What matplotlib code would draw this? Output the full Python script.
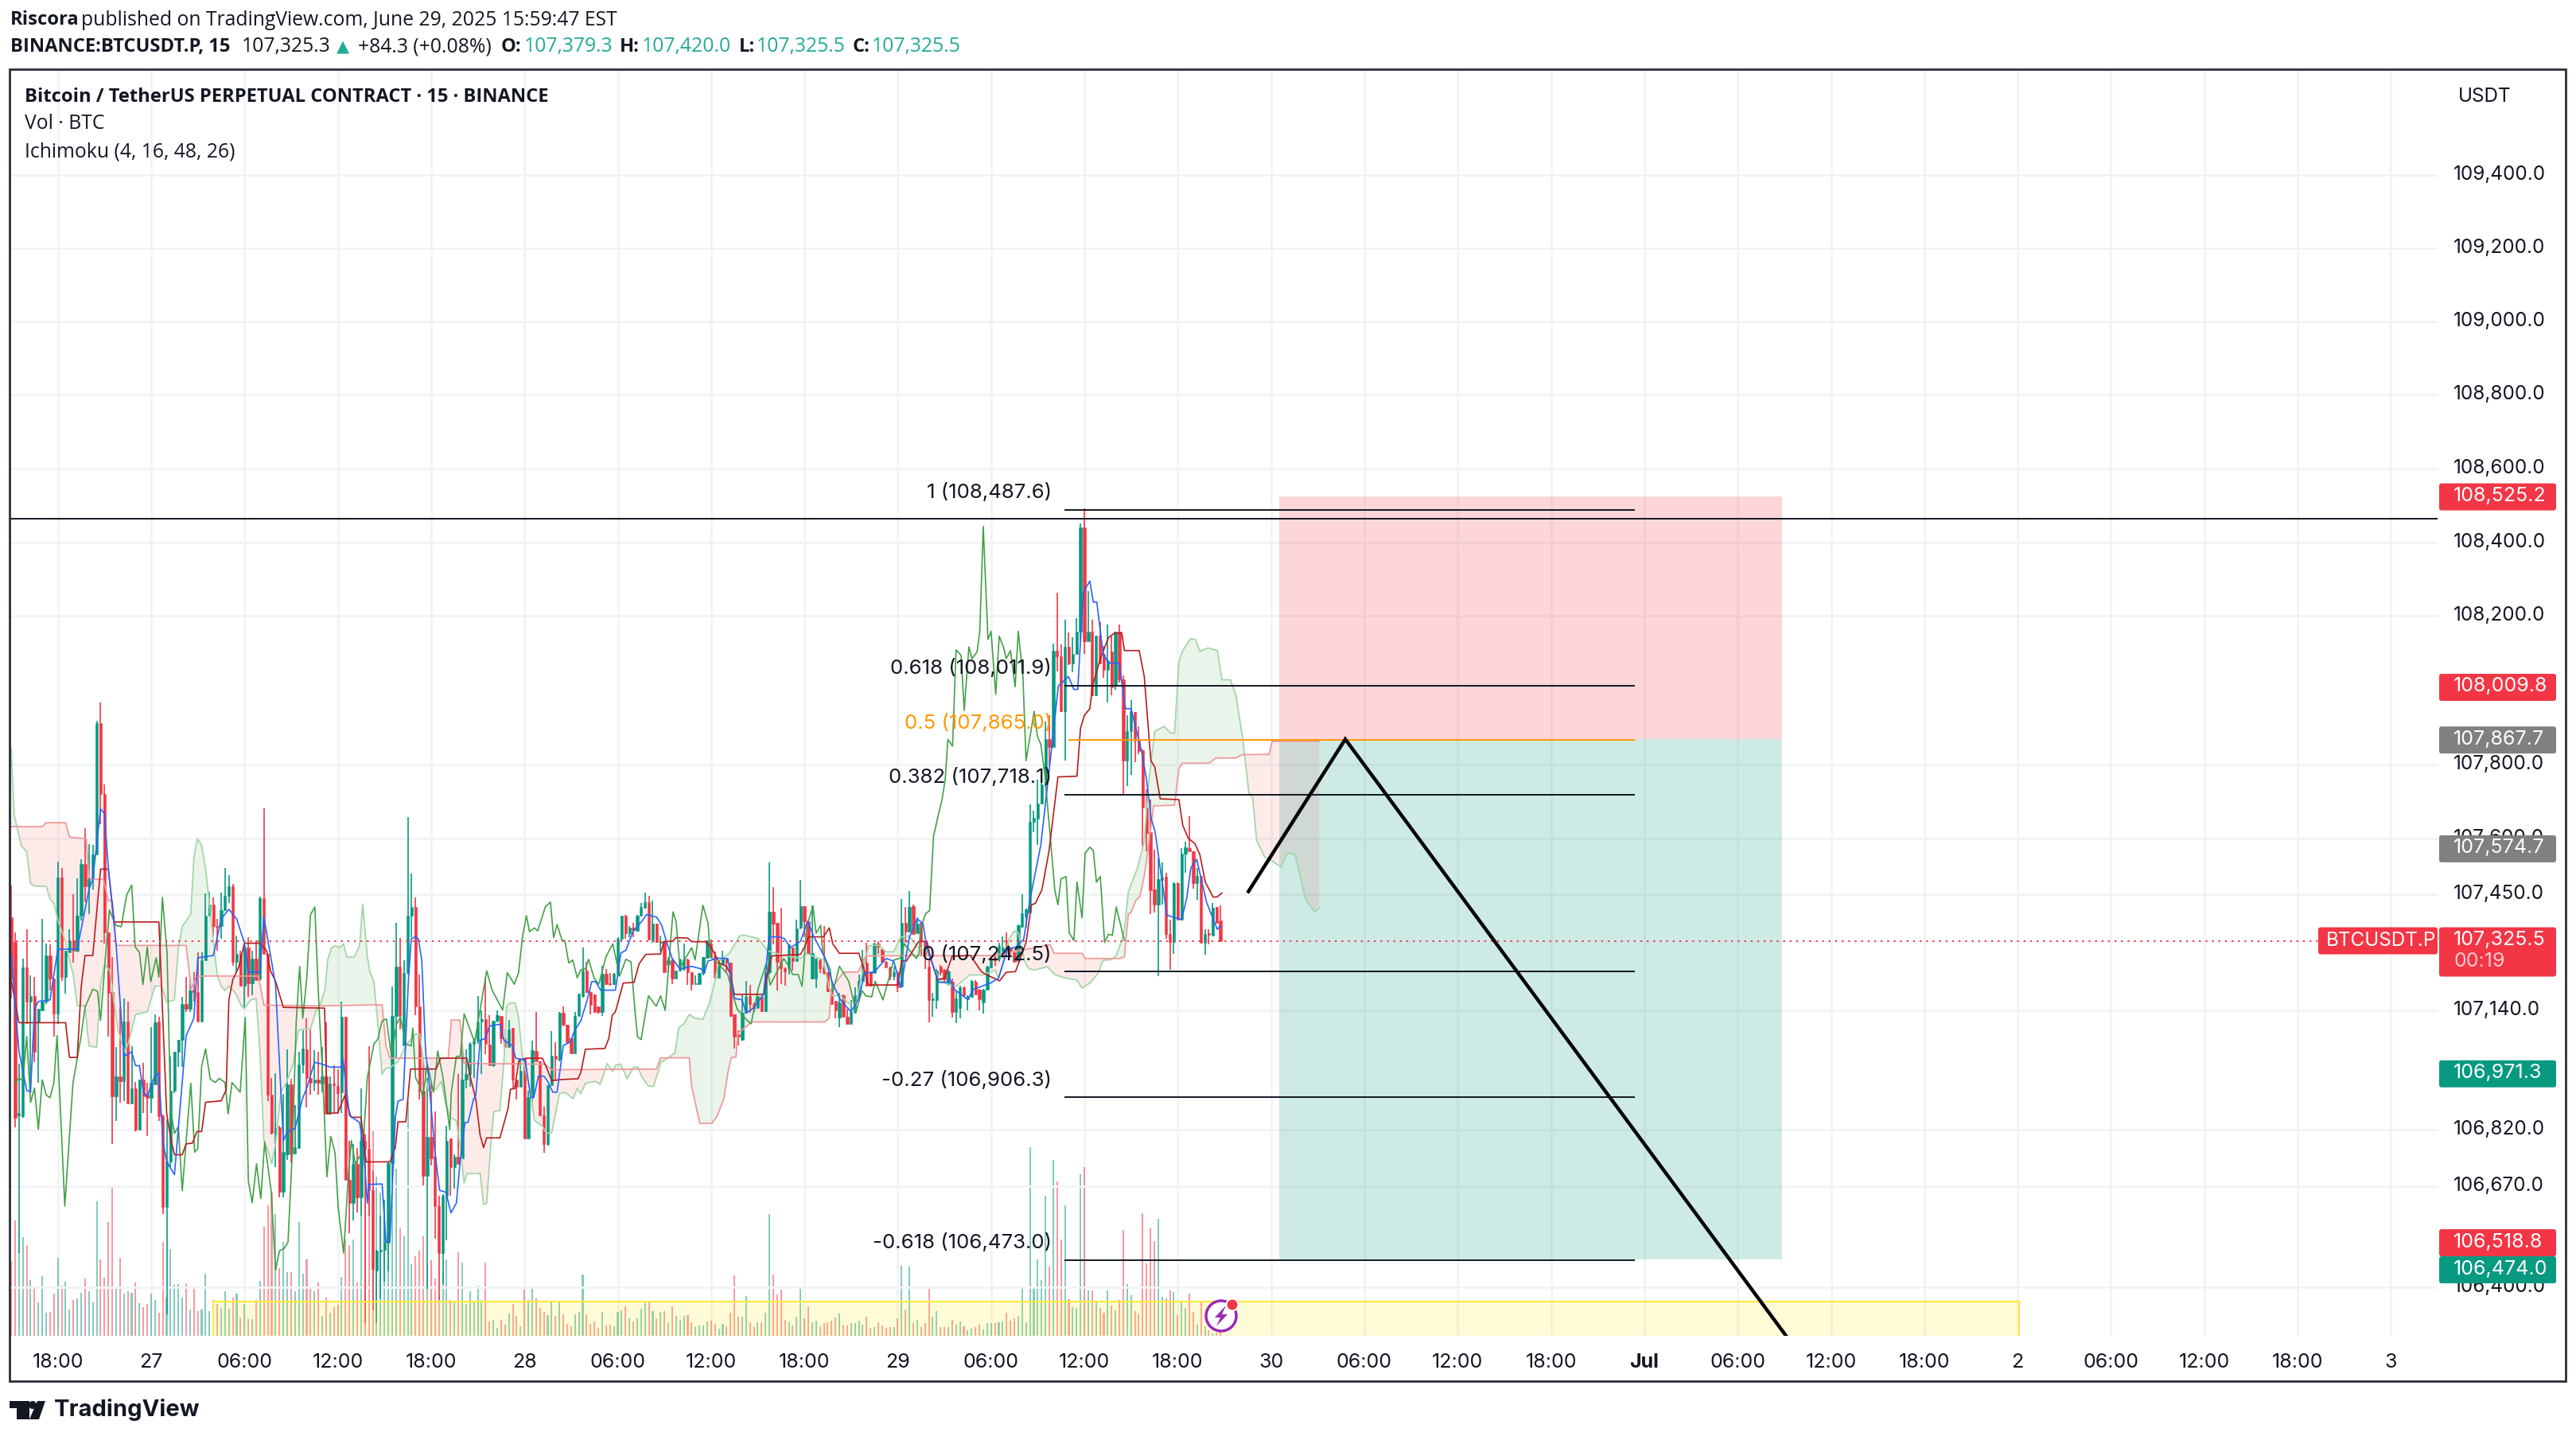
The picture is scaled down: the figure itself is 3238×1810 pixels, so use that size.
import matplotlib
matplotlib.use('Agg')
import matplotlib.pyplot as plt
import numpy as np
from matplotlib.patches import FancyBboxPatch, Rectangle, Circle, Polygon
from matplotlib.ticker import NullLocator
from matplotlib.transforms import IdentityTransform, ScaledTranslation

W, H = 3238, 1810
DPI = 100

opens = [
    107389, 107323, 106858, 106856, 107254, 107163, 107177, 107106, 107139, 107163,
    107286, 107225, 107130, 107495, 107229, 107295, 107327, 107299, 107393, 107532,
    107471, 107491, 107557, 107910, 107721, 107349, 107188, 106909, 106962, 106950,
    107110, 106890, 106931, 106819, 106954, 106913, 106905, 106942, 107110, 106856,
    106613, 106735, 106925, 107028, 107061, 107155, 107143, 107194, 107188, 107110,
    107274, 107393, 107422, 107366, 107364, 107407, 107446, 107471, 107270, 107290,
    107204, 107307, 107212, 107278, 107222, 107440, 107290, 106913, 106807, 106827,
    106654, 106753, 106942, 106757, 106770, 106995, 107035, 106958, 106946, 106954,
    106944, 106963, 106863, 106944, 106937, 106920, 107121, 106686, 106624, 106729,
    106639, 106791, 106768, 106658, 106445, 106496, 106500, 106519, 106731, 107123,
    107257, 107045, 107240, 107393, 107417, 107150, 106925, 106696, 106801, 106748,
    106615, 106491, 106643, 106796, 106720, 106748, 106744, 106954, 106968, 107049,
    107059, 107109, 107116, 107047, 106992, 107111, 107124, 107064, 107040, 107092,
    106954, 106935, 107011, 106796, 106906, 107030, 107002, 106858, 106782, 106938,
    107018, 107006, 107133, 107100, 107064, 107025, 107124, 107178, 107245, 107188,
    107181, 107150, 107135, 107237, 107212, 107209, 107238, 107331, 107393, 107345,
    107360, 107353, 107392, 107415, 107429, 107328, 107371, 107321, 107324, 107262,
    107274, 107225, 107246, 107250, 107276, 107242, 107210, 107210, 107239, 107280,
    107319, 107285, 107226, 107262, 107277, 107267, 107128, 107075, 107061, 107132,
    107178, 107155, 107146, 107175, 107137, 107242, 107403, 107374, 107269, 107252,
    107252, 107307, 107271, 107360, 107419, 107378, 107225, 107225, 107273, 107254,
    107242, 107196, 107164, 107120, 107180, 107121, 107103, 107132, 107180, 107217,
    107266, 107242, 107240, 107319, 107303, 107269, 107255, 107230, 107242, 107203,
    107374, 107351, 107419, 107346, 107374, 107324, 107257, 107166, 107167, 107257,
    107248, 107212, 107215, 107135, 107145, 107201, 107168, 107175, 107216, 107195,
    107160, 107195, 107253, 107282, 107277, 107299, 107326, 107308, 107295, 107272,
    107362, 107391, 107402, 107646, 107653, 107695, 107745, 107867, 107847, 108107,
    108092, 107943, 108117, 108072, 108098, 108157, 108441, 108133, 108159, 107987,
    108148, 108098, 108055, 108104, 108011, 108159, 108030, 107810, 107889, 107941,
    107863, 107838, 107684, 107618, 107463, 107422, 107490, 107498, 107343, 107323,
    107481, 107382, 107559, 107574, 107567, 107480, 107500, 107321, 107346, 107339,
    107417, 107379.3,
]
closes = [
    107225, 106852, 106865, 107254, 107163, 107177, 107028, 107143, 107163, 107286,
    107225, 107130, 107495, 107229, 107299, 107327, 107299, 107393, 107532, 107471,
    107491, 107557, 107910, 107721, 107348, 107185, 106909, 106962, 106950, 107110,
    106890, 106931, 106819, 106954, 106909, 106905, 106946, 107106, 106856, 106613,
    106735, 106925, 107028, 107061, 107155, 107143, 107192, 107188, 107110, 107274,
    107393, 107422, 107364, 107362, 107407, 107446, 107471, 107270, 107290, 107204,
    107307, 107212, 107278, 107221, 107440, 107290, 106913, 106811, 106824, 106654,
    106760, 106942, 106757, 106774, 106995, 107036, 106958, 106946, 106954, 106946,
    106963, 106863, 106944, 106939, 106918, 107121, 106686, 106624, 106729, 106639,
    106791, 106768, 106658, 106448, 106498, 106500, 106519, 106731, 107123, 107257,
    107123, 107240, 107393, 107417, 107150, 106925, 106696, 106801, 106744, 106615,
    106491, 106643, 106791, 106720, 106748, 106729, 106954, 106968, 107049, 107059,
    107109, 107116, 107049, 106992, 107111, 107126, 107064, 107040, 107087, 106954,
    106935, 106978, 106796, 106906, 107033, 107002, 106858, 106782, 106938, 107018,
    107008, 107133, 107100, 107054, 107025, 107124, 107183, 107245, 107188, 107154,
    107135, 107135, 107237, 107209, 107209, 107238, 107331, 107393, 107345, 107360,
    107355, 107392, 107416, 107429, 107329, 107371, 107322, 107324, 107242, 107274,
    107225, 107246, 107276, 107276, 107242, 107210, 107212, 107239, 107282, 107326,
    107282, 107226, 107262, 107278, 107267, 107125, 107068, 107068, 107132, 107175,
    107155, 107144, 107177, 107137, 107242, 107403, 107372, 107269, 107252, 107244,
    107317, 107271, 107358, 107419, 107378, 107291, 107292, 107277, 107252, 107239,
    107190, 107155, 107139, 107160, 107121, 107103, 107135, 107180, 107217, 107266,
    107205, 107205, 107319, 107310, 107269, 107253, 107230, 107242, 107201, 107374,
    107351, 107416, 107344, 107371, 107324, 107285, 107166, 107170, 107246, 107242,
    107223, 107243, 107135, 107170, 107201, 107180, 107177, 107218, 107182, 107168,
    107195, 107256, 107278, 107273, 107312, 107308, 107299, 107299, 107269, 107367,
    107400, 107410, 107646, 107655, 107695, 107745, 107867, 107847, 108107, 108092,
    107943, 108117, 108072, 108098, 108158, 108441, 108133, 108159, 107986, 108148,
    108072, 108055, 108081, 108007, 108159, 108030, 107810, 107889, 107943, 107863,
    107836, 107684, 107616, 107461, 107422, 107491, 107496, 107343, 107323, 107481,
    107382, 107559, 107577, 107566, 107480, 107500, 107321, 107343, 107342, 107415,
    107374, 107325.5,
]
highs = [
    107475, 107348, 106996, 107278, 107356, 107233, 107229, 107143, 107385, 107319,
    107315, 107225, 107538, 107522, 107299, 107356, 107450, 107494, 107545, 107627,
    107586, 107582, 107918, 107967, 107745, 107349, 107282, 107040, 107147, 107171,
    107162, 107044, 106948, 106954, 106998, 106946, 107094, 107128, 107122, 106860,
    106848, 107016, 107028, 107061, 107176, 107229, 107225, 107241, 107294, 107294,
    107453, 107456, 107442, 107385, 107454, 107522, 107502, 107479, 107340, 107299,
    107307, 107336, 107299, 107327, 107444, 107682, 107290, 106958, 106971, 106830,
    106915, 107035, 106955, 106885, 107028, 107085, 107118, 107090, 107032, 107028,
    107040, 107107, 106963, 106992, 106982, 107162, 107121, 106791, 106782, 106772,
    106930, 106806, 107044, 106710, 106500, 106591, 106634, 106734, 107202, 107374,
    107334, 107274, 107658, 107505, 107441, 107235, 107006, 106959, 106944, 106868,
    106643, 106648, 106830, 106796, 106753, 106968, 107049, 107035, 107054, 107064,
    107178, 107140, 107226, 107126, 107111, 107140, 107124, 107087, 107113, 107092,
    106954, 107006, 107011, 106925, 107059, 107135, 107002, 106882, 106939, 107083,
    107054, 107135, 107149, 107100, 107064, 107135, 107183, 107307, 107269, 107190,
    107181, 107150, 107259, 107250, 107240, 107240, 107336, 107393, 107395, 107364,
    107374, 107396, 107428, 107454, 107446, 107433, 107371, 107339, 107324, 107282,
    107278, 107246, 107278, 107319, 107278, 107242, 107232, 107240, 107282, 107326,
    107328, 107296, 107265, 107299, 107278, 107267, 107128, 107085, 107180, 107217,
    107207, 107160, 107178, 107178, 107242, 107535, 107469, 107374, 107415, 107253,
    107317, 107307, 107383, 107490, 107419, 107378, 107421, 107278, 107276, 107364,
    107242, 107196, 107164, 107185, 107182, 107144, 107167, 107200, 107235, 107302,
    107321, 107242, 107321, 107324, 107303, 107271, 107257, 107257, 107244, 107438,
    107416, 107460, 107423, 107389, 107374, 107324, 107278, 107185, 107250, 107260,
    107250, 107248, 107225, 107190, 107205, 107203, 107180, 107220, 107220, 107197,
    107197, 107258, 107280, 107290, 107320, 107337, 107347, 107308, 107295, 107370,
    107450, 107413, 107692, 107675, 107758, 107766, 107915, 107932, 108126, 108264,
    108124, 108190, 108155, 108144, 108194, 108452, 108491, 108268, 108190, 108148,
    108183, 108120, 108177, 108145, 108159, 108177, 108039, 107932, 107974, 107941,
    107902, 107841, 107732, 107705, 107570, 107548, 107535, 107509, 107382, 107483,
    107483, 107574, 107592, 107660, 107567, 107522, 107500, 107356, 107356, 107428,
    107417, 107420,
]
lows = [
    107170, 106827, 106491, 106852, 107102, 106921, 107000, 106946, 107139, 107155,
    107192, 107069, 107102, 107217, 107184, 107295, 107266, 107295, 107381, 107430,
    107397, 107463, 107557, 107639, 107319, 107069, 106782, 106843, 106893, 106897,
    106890, 106890, 106815, 106819, 106864, 106802, 106864, 106942, 106843, 106595,
    106329, 106720, 106917, 106987, 106987, 107135, 107135, 107163, 107110, 107110,
    107274, 107393, 107340, 107299, 107331, 107405, 107428, 107259, 107241, 107204,
    107147, 107176, 107180, 107221, 107221, 107290, 106897, 106807, 106720, 106640,
    106640, 106740, 106730, 106757, 106770, 106970, 106880, 106913, 106925, 106913,
    106920, 106863, 106863, 106863, 106863, 106865, 106686, 106543, 106577, 106600,
    106591, 106304, 106591, 106338, 106304, 106371, 106414, 106443, 106686, 107011,
    107087, 107045, 107235, 107336, 107126, 106901, 106672, 106395, 106725, 106529,
    106366, 106409, 106524, 106643, 106662, 106729, 106744, 106930, 106935, 106959,
    107049, 106968, 107021, 106992, 106987, 107107, 107049, 107040, 107040, 106930,
    106901, 106935, 106796, 106796, 106882, 107002, 106858, 106758, 106777, 106938,
    106951, 107002, 107097, 107054, 107025, 107025, 107124, 107173, 107185, 107129,
    107133, 107130, 107124, 107207, 107204, 107207, 107231, 107324, 107331, 107336,
    107336, 107353, 107392, 107413, 107328, 107321, 107321, 107296, 107242, 107242,
    107210, 107225, 107246, 107246, 107207, 107192, 107210, 107210, 107232, 107279,
    107282, 107226, 107226, 107262, 107242, 107121, 107036, 107046, 107057, 107132,
    107132, 107135, 107146, 107135, 107135, 107235, 107317, 107192, 107210, 107205,
    107235, 107246, 107271, 107356, 107335, 107291, 107222, 107198, 107239, 107235,
    107189, 107153, 107118, 107094, 107121, 107103, 107102, 107132, 107178, 107217,
    107203, 107203, 107239, 107290, 107267, 107253, 107221, 107221, 107189, 107201,
    107321, 107349, 107342, 107346, 107285, 107249, 107108, 107121, 107143, 107232,
    107214, 107205, 107120, 107105, 107118, 107175, 107140, 107172, 107180, 107140,
    107130, 107195, 107253, 107258, 107270, 107280, 107286, 107282, 107269, 107272,
    107360, 107360, 107400, 107618, 107583, 107692, 107740, 107797, 107845, 108050,
    107941, 107810, 108068, 108048, 108098, 108133, 108098, 108133, 107983, 107985,
    108072, 108033, 107967, 107985, 108002, 108020, 107718, 107742, 107771, 107806,
    107828, 107579, 107566, 107397, 107402, 107230, 107422, 107330, 107247, 107291,
    107382, 107382, 107509, 107566, 107465, 107436, 107321, 107288, 107317, 107339,
    107374, 107325.5,
]
volumes = [
    94, 145, 107, 124, 114, 70, 62, 42, 75, 29,
    30, 53, 98, 63, 68, 33, 45, 47, 54, 72,
    56, 42, 169, 96, 73, 143, 188, 61, 98, 53,
    56, 54, 67, 41, 36, 40, 53, 45, 29, 118,
    48, 109, 64, 65, 48, 66, 33, 59, 31, 33,
    78, 31, 45, 40, 35, 56, 34, 48, 53, 23,
    40, 21, 21, 45, 69, 137, 164, 180, 153, 85,
    118, 80, 80, 56, 143, 78, 96, 61, 56, 67,
    25, 48, 29, 36, 39, 74, 121, 114, 121, 67,
    250, 254, 250, 259, 200, 180, 150, 170, 205, 210,
    135, 125, 295, 90, 100, 107, 125, 90, 95, 72,
    50, 80, 96, 45, 42, 105, 92, 40, 56, 42,
    63, 45, 92, 18, 20, 10, 20, 14, 28, 40,
    25, 12, 58, 45, 62, 47, 35, 30, 26, 42,
    25, 42, 27, 15, 12, 27, 30, 77, 27, 15,
    18, 10, 30, 13, 14, 12, 30, 32, 37, 22,
    18, 22, 34, 41, 42, 31, 22, 30, 31, 17, 37,
    25, 20, 25, 26, 17, 11, 13, 13, 18, 19,
    15, 9, 15, 12, 29, 76, 24, 24, 50, 17,
    11, 17, 17, 29, 153, 77, 52, 58, 20, 18,
    13, 24, 62, 22, 37, 17, 19, 12, 16, 17,
    19, 23, 28, 14, 13, 16, 16, 19, 14, 24,
    10, 11, 17, 13, 10, 11, 11, 22, 88, 33,
    87, 16, 20, 11, 16, 59, 24, 31, 11, 11,
    11, 20, 14, 18, 12, 7, 9, 11, 14, 8,
    16, 16, 16, 17, 18, 29, 19, 22, 25, 60,
    17, 237, 60, 96, 70, 176, 87, 221, 194, 121,
    164, 46, 36, 35, 203, 212, 57, 57, 42, 35,
    29, 57, 38, 32, 45, 133, 65, 51, 31, 28,
    154, 91, 135, 119, 147, 49, 47, 57, 55, 26,
    42, 35, 53, 30, 14, 42, 12, 7, 3, 4,
    6,
]

conversion = [
    (0, 107290), (2, 107030), (4, 106925), (5, 106921), (6, 107143), (7, 107163), (10, 107167), (12, 107303),
    (17, 107303), (20, 107463), (21, 107491), (23, 107680), (24, 107667), (25, 107520), (27, 107315), (29, 107016),
    (31, 107028), (32, 106991), (33, 106991), (34, 106921), (35, 106909), (37, 106966), (38, 106970), (39, 106790),
    (40, 106735), (42, 106700), (45, 107071), (47, 107118), (48, 107280), (52, 107286), (54, 107384), (56, 107410),
    (58, 107384), (60, 107319), (61, 107241), (64, 107241), (65, 107389), (68, 107208), (70, 106790), (71, 106815),
    (73, 106823), (75, 106905), (76, 106930), (78, 107000), (80, 106995), (82, 106987), (85, 106987), (85.3, 107011),
    (87, 106858), (89.6, 106839), (90.6, 106772), (91.6, 106624), (92, 106674), (95.4, 106675), (96.4, 106519),
    (97.4, 106524), (98.8, 106853), (99.5, 106896), (100.8, 106901), (102.2, 107226), (102.9, 107331), (103.9, 107336),
    (104.7, 107331), (105.6, 107274), (106.6, 107025), (107.3, 106968), (109, 106758), (110.2, 106658), (111.8, 106653),
    (113.1, 106598), (114.5, 106624), (115.5, 106739), (116.7, 106839), (117.5, 106839), (118.9, 106901), (119.5, 106911),
    (120.6, 107059), (122, 107064), (123, 107097), (125.7, 107102), (126.7, 107059), (128.8, 107045), (129.8, 107011),
    (132.2, 107006), (133.6, 106906), (134.4, 106906), (135.6, 106963), (137, 106963), (138, 106949), (139.3, 106920),
    (140.4, 106920), (142, 107045), (143.8, 107054), (144.8, 107083), (146.5, 107111), (148.2, 107169), (149.3, 107216),
    (150.3, 107216), (151.6, 107193), (155.4, 107193), (156.8, 107293), (158.1, 107300), (159.9, 107350), (162.2, 107378),
    (163.4, 107396), (166, 107389), (167.3, 107367), (168.6, 107321), (170, 107278), (172, 107250), (175, 107257),
    (177.5, 107250), (178.2, 107239), (179.2, 107271), (181.6, 107279), (184.3, 107278), (186, 107171), (188, 107167),
    (189, 107132), (191, 107146), (193.5, 107182), (194.9, 107336), (197.6, 107336), (198.9, 107331), (200.4, 107307),
    (203, 107324), (204.8, 107378), (206.5, 107335), (209.2, 107282), (211.3, 107210), (213.3, 107167), (216, 107135),
    (218, 107171), (219.5, 107239), (222, 107242), (225, 107278), (227, 107271), (228.8, 107200), (231, 107335),
    (233, 107385), (234.5, 107371), (235.5, 107307), (237.6, 107242), (238.6, 107214), (240.6, 107214), (241.3, 107225),
    (242.6, 107195), (246, 107168), (247.4, 107195), (251.8, 107212), (253.9, 107225), (256.3, 107304), (258.3, 107308),
    (260.4, 107330), (262, 107435), (264.8, 107583), (267.5, 107836), (269.3, 108011), (271.9, 108037), (273.3, 108002),
    (274.3, 108002), (275.7, 108264), (277.4, 108295), (278.3, 108238), (279.2, 108238), (280.8, 108098), (282.2, 108074),
    (284.9, 108072), (286.6, 107950), (288, 107950), (290.7, 107836), (292, 107758), (293.2, 107653), (294.2, 107618),
    (295.2, 107544), (297.2, 107395), (298.2, 107391), (301, 107382), (302.3, 107439), (303.4, 107522), (304.9, 107544),
    (307.4, 107430), (308.5, 107400), (310.2, 107356), (310.9, 107365),
]
base_line = [
    (0, 107221), (2, 107106), (14, 107106), (15, 107013), (17, 107013), (18, 107200), (19, 107286), (21, 107286),
    (23, 107518), (25, 107518), (26.5, 107376), (38, 107376), (40, 106864), (41, 106798), (42, 106753), (44, 106753),
    (45, 106782), (46.6, 106784), (47.8, 106815), (49, 106815), (50, 106893), (54, 106897), (55.3, 106926), (56, 107167),
    (57, 107221), (58.5, 107254), (60, 107319), (64, 107319), (65.7, 107299), (66.7, 107245), (68, 107217), (70, 107147),
    (80.6, 107145), (81.3, 106863), (84, 106865), (85.8, 106911), (87.4, 106853), (90, 106853), (91.3, 106734),
    (97.4, 106734), (98.8, 106772), (99.5, 106841), (101.5, 106841), (102.7, 106982), (109.3, 106982), (110.4, 107011),
    (117.2, 107011), (117.9, 106968), (119.5, 106901), (120.6, 106806), (121.5, 106772), (122.3, 106798), (125.7, 106798),
    (127.8, 106877), (128.4, 106928), (129.5, 106930), (130.6, 107006), (132.5, 107011), (136.6, 107011), (138, 106978),
    (139, 106951), (141.7, 106954), (145.8, 106956), (146.5, 106973), (147.7, 107035), (152.7, 107037), (153.7, 107064),
    (154.6, 107126), (155.4, 107135), (157.4, 107212), (160.2, 107214), (161.5, 107264), (163.2, 107289), (167, 107290),
    (167.9, 107324), (170, 107324), (171, 107334), (174, 107333), (175, 107323), (178.5, 107323), (179.9, 107310),
    (182.3, 107264), (184, 107257), (185, 107235), (186, 107182), (193.5, 107182), (194.5, 107235), (195.6, 107285),
    (203, 107289), (204.1, 107310), (205, 107336), (208.9, 107336), (210.4, 107360), (211.3, 107317), (213, 107292),
    (218, 107292), (219.1, 107257), (220.5, 107207), (228, 107207), (229, 107271), (230.3, 107272), (233.4, 107324),
    (235.5, 107324), (236.5, 107278), (238.2, 107221), (240, 107225), (242, 107284), (246.7, 107286), (249.5, 107243),
    (250.5, 107236), (253.2, 107223), (254.2, 107218), (255.9, 107241), (258.3, 107243), (261, 107321), (262.4, 107422),
    (263.4, 107426), (265.1, 107463), (266.9, 107566), (267.9, 107653), (269.2, 107766), (274.1, 107768), (275, 107897),
    (276, 107932), (277.4, 107950), (278.1, 108011), (280.1, 108085), (282.2, 108142), (283.6, 108153), (285.6, 108155),
    (286.3, 108107), (290.1, 108107), (291.4, 108037), (293.1, 107810), (294.1, 107793), (295.5, 107707), (300.3, 107705),
    (301.3, 107636), (302.7, 107601), (304.4, 107587), (305.7, 107557), (307.1, 107483), (309.1, 107443), (310.1, 107443),
    (311.4, 107454),
]
lagging = [
    (1.1, 106946), (2, 106958), (3, 106950), (4, 107069), (5, 106893), (6, 106931), (7, 106821), (8, 106953), (9, 106913),
    (10, 106905), (11, 106946), (11.8, 107071), (13.8, 106616), (15.9, 106944), (18, 107071), (19, 107147), (21, 107196),
    (22.2, 107190), (23, 107112), (24.5, 107315), (25.3, 107408), (26.9, 107367), (28.3, 107363), (29.7, 107448),
    (31, 107475), (31.9, 107309), (33, 107294), (33.9, 107208), (35, 107309), (35.9, 107216), (37.3, 107280), (38, 107228),
    (38.9, 107442), (40.1, 107292), (41, 106874), (42, 106810), (43, 106828), (44, 106657), (46.2, 106944), (47.2, 106760),
    (48, 106770), (49, 106990), (50, 107036), (51.2, 106955), (52.5, 106946), (53.5, 106957), (55, 106946), (55.8, 106862),
    (56.8, 106946), (58.9, 106920), (60.2, 107120), (61, 106683), (62, 106625), (63.1, 106729), (64.2, 106636),
    (65.2, 106787), (66.9, 106654), (68, 106445), (69, 106497), (70.2, 106503), (71.2, 106520), (72.3, 106758),
    (73.3, 107106), (74.2, 107257), (75, 107118), (76, 107222), (77, 107396), (78.1, 107416), (79.1, 107164), (80.1, 106967),
    (81.2, 106694), (82.2, 106802), (83.3, 106758), (84.1, 106613), (85.5, 106491), (86.8, 106710), (87.5, 106791),
    (88.5, 106729), (89.6, 106748), (90.4, 106758), (91.6, 106959), (93.3, 107049), (94.3, 107062), (95.4, 107111),
    (96.5, 107116), (97.8, 107016), (99.1, 107102), (100.1, 107121), (101.5, 107049), (102.9, 107044), (103.3, 107092),
    (104, 106959), (104.9, 106940), (105.9, 106906), (107, 106997), (108.6, 106920), (109.7, 107030), (111, 106963),
    (112.8, 106820), (113.2, 106920), (114.5, 107016), (115.5, 107016), (116.5, 107130), (119.2, 107054), (122.3, 107245),
    (123.7, 107193), (126.4, 107140), (127.6, 107240), (129.4, 107209), (130.5, 107240), (131.5, 107336), (132.5, 107393),
    (133.3, 107350), (134.6, 107360), (135.4, 107352), (137.4, 107417), (138.7, 107429), (139.5, 107334), (140.4, 107369),
    (141.7, 107326), (142.4, 107326), (143.4, 107266), (144.4, 107274), (145.6, 107226), (146.5, 107248), (147.7, 107250),
    (148.5, 107276), (149.9, 107226), (151.1, 107209), (153, 107283), (154.7, 107317), (156.5, 107231), (158.1, 107276),
    (159.4, 107269), (160.5, 107130), (161.1, 107068), (162, 107061), (163.9, 107178), (165.9, 107150), (167, 107178),
    (168.2, 107139), (170.2, 107403), (171, 107378), (172, 107253), (175, 107307), (175.9, 107274), (177.9, 107421),
    (179.2, 107374), (179.9, 107282), (181.9, 107264), (184.3, 107235), (185.7, 107178), (186.7, 107143), (189.1, 107114),
    (190.3, 107103), (192.2, 107200), (194.2, 107265), (195.2, 107207), (198.7, 107278), (200, 107257), (201, 107235),
    (202.4, 107235), (203.4, 107203), (204.6, 107364), (206.2, 107419), (207, 107346), (208.2, 107367), (208.7, 107292),
    (210.6, 107250), (211.3, 107189), (213, 107257), (215.4, 107217), (217.3, 107135), (218.8, 107192), (219.8, 107178),
    (221.3, 107175), (222.2, 107217), (224.2, 107167), (227, 107274), (228.7, 107279), (229.7, 107317), (232.8, 107278),
    (233.5, 107292), (233.8, 107356), (235.2, 107399), (236.2, 107406), (237.2, 107606), (238.5, 107666), (239.4, 107705),
    (240.2, 107758), (240.9, 107867), (242.1, 107849), (243, 108109), (244.3, 108094), (245.1, 107945), (246.3, 108117),
    (247.1, 108085), (248.4, 108103), (249.1, 108159), (250, 108443), (251.2, 108137), (252, 108159), (253.2, 107989),
    (254.1, 108146), (255.2, 108116), (255.9, 108085), (257, 108107), (258.2, 108009), (259, 108159), (260.2, 108037),
    (261, 107810), (263.1, 107943), (263.9, 107876), (264.8, 107854), (265.8, 107775), (267.2, 107609), (268.4, 107461),
    (269.2, 107422), (270, 107492), (271.3, 107498), (272.1, 107347), (273.3, 107326), (274.1, 107483), (275.4, 107387),
    (276.2, 107561), (277.4, 107577), (278.3, 107568), (279.1, 107483), (280.1, 107498), (281.2, 107321), (282.2, 107343),
    (283.2, 107340), (284.2, 107416), (286.3, 107326),
]
lead_a = [
    (0, 107844), (0.8, 107663), (2.6, 107581), (4, 107565), (5, 107479), (6.3, 107472), (9, 107472), (10, 107438),
    (11, 107426), (12, 107381), (14, 107323), (15, 107274), (16, 107233), (17, 107151), (19, 107151), (20, 107044),
    (22, 107040), (23, 107208), (24, 107262), (25.4, 107245), (26.5, 107159), (27.5, 107085), (29.2, 107028), (30.2, 107053),
    (32, 107128), (35, 107135), (37, 107204), (38.7, 107204), (40, 107161), (42, 107167), (43, 107307), (44, 107364),
    (46.2, 107397), (47, 107549), (47.9, 107600), (49, 107581), (50, 107520), (51.7, 107356), (53, 107233), (54, 107204),
    (55, 107192), (56, 107204), (57.8, 107184), (59.2, 107151), (60, 107143), (61.6, 107167), (63, 107171), (64, 107028),
    (65, 106790), (66, 106766), (67, 106729), (68, 106782), (69.4, 106921), (70.8, 106946), (72.5, 106995), (73.9, 107085),
    (74.9, 107089), (77, 107089), (78.3, 107135), (79.3, 107150), (80.7, 107193), (81.4, 107274), (82.4, 107307),
    (83.4, 107312), (84.5, 107307), (85.5, 107317), (86.3, 107283), (88.2, 107281), (89.6, 107312), (90.4, 107424),
    (91.6, 107283), (92.3, 107240), (93.3, 107216), (94.3, 107102), (95.4, 106968), (96.4, 106985), (97.4, 106985),
    (99.5, 107002), (101.5, 107045), (103.9, 107075), (105.1, 107075), (106.6, 106959), (107.3, 106925), (109.3, 106928),
    (110.6, 106949), (111.7, 106892), (112.8, 106853), (114.5, 106844), (115.5, 106772), (116.5, 106677), (117.2, 106703),
    (120.6, 106703), (121.5, 106620), (122.3, 106624), (123.3, 106772), (124.1, 106868), (125.7, 106871), (126.7, 106997),
    (127.4, 107150), (128.4, 107159), (129.6, 107159), (130.5, 107121), (131.5, 107011), (133.6, 106920), (134.6, 106844),
    (136.6, 106830), (137.6, 106811), (139, 106811), (140, 106863), (141, 106916), (142.4, 106920), (144.5, 106903),
    (145.6, 106930), (146.5, 106916), (147.7, 106944), (150.2, 106949), (151.5, 106941), (153.3, 106997), (154.7, 106975),
    (155.4, 106992), (156.8, 106995), (158.4, 106956), (160.1, 106987), (161.2, 106987), (162.2, 106961), (163.9, 106936),
    (165.2, 106936), (166.3, 106971), (167.1, 107001), (168.3, 107007), (170.7, 107025), (171.7, 107093), (173, 107103),
    (174.4, 107128), (175.8, 107118), (177.9, 107115), (179.6, 107160), (180.6, 107200), (182, 107271), (184.7, 107292),
    (187.4, 107339), (188.4, 107341), (190.8, 107335), (192.2, 107331), (194.5, 107299), (197.6, 107289), (203, 107278),
    (204.4, 107292), (208.9, 107274), (210.3, 107200), (211.3, 107178), (213.3, 107178), (215.4, 107157), (217.4, 107160),
    (219.1, 107250), (220.5, 107312), (223.2, 107314), (224.9, 107296), (227, 107296), (228.7, 107335), (231, 107339),
    (233, 107310), (235.5, 107299), (238.6, 107222), (240.6, 107210), (243, 107203), (246.5, 107234), (250, 107234),
    (253, 107247), (254, 107225), (256.6, 107330), (258, 107352), (259, 107347), (260.7, 107269), (261.7, 107251),
    (263.1, 107247), (266.5, 107256), (268.5, 107234), (271.3, 107225), (274, 107221), (275.4, 107199), (277.4, 107212),
    (279.5, 107238), (280.8, 107273), (282.9, 107275), (284.2, 107286), (285.6, 107326), (286.3, 107356), (287.3, 107457),
    (289.7, 107522), (291.4, 107592), (292.4, 107740), (294.1, 107889), (296.5, 107902), (298.2, 107884), (299.2, 107884),
    (300.3, 108076), (301.3, 108107), (303.3, 108139), (304.6, 108137), (305.7, 108105), (307.8, 108114), (310.2, 108107),
    (311.4, 108028), (313.6, 108028), (315, 107985), (316.7, 107871), (318.3, 107723), (319.3, 107710), (320.3, 107595),
    (322.3, 107552), (324, 107542), (326.6, 107523), (328.1, 107561), (330.2, 107557), (332.9, 107437), (335.2, 107402),
    (336.4, 107413),
]
lead_b = [
    (0, 107632), (8, 107632), (9, 107643), (14, 107643), (15, 107604), (19.3, 107600), (20, 107499), (20.5, 107491),
    (23.7, 107491), (25, 107434), (26, 107434), (27, 107313), (45, 107313), (46.3, 107196), (47.7, 107229), (49.3, 107231),
    (63.6, 107231), (65, 107153), (80.4, 107151), (95.4, 107154), (96.4, 107044), (97.4, 107011), (112.4, 107011),
    (113.2, 107113), (115.4, 107113), (116.5, 106997), (137.3, 106995), (138.9, 106980), (166, 106982), (167, 107012),
    (174.4, 107012), (175, 106936), (177.1, 106837), (180.2, 106837), (181.6, 106857), (183.3, 106904), (184.3, 106971),
    (185.2, 107013), (186.4, 107014), (186.9, 107078), (190.5, 107108), (209.2, 107108), (210.4, 107118), (210.9, 107196),
    (214, 107241), (217.8, 107242), (219.8, 107285), (252.5, 107286), (267.2, 107315), (268.2, 107292), (275.4, 107292),
    (276.2, 107278), (285, 107278), (286.3, 107282), (287.3, 107398), (287.9, 107400), (289.3, 107435), (290.3, 107444),
    (291.4, 107500), (292.4, 107574), (293.8, 107688), (299.2, 107690), (300.3, 107788), (301.2, 107803), (308.1, 107803),
    (309.8, 107817), (314.9, 107817), (316.6, 107826), (323.5, 107827), (324.3, 107862), (336.4, 107862),
]

price_ticks = [109400, 109200, 109000, 108800, 108600, 108400, 108200, 107800, 107600, 107450, 107140, 106820, 106670, 106400]
time_labels = ['18:00', '27', '06:00', '12:00', '18:00', '28', '06:00', '12:00', '18:00', '29', '06:00', '12:00', '18:00',
               '30', '06:00', '12:00', '18:00', 'Jul', '06:00', '12:00', '18:00', '2', '06:00', '12:00', '18:00', '3']
fib_levels = [('1', 108487.6), ('0.618', 108011.9), ('0.5', 107865.0), ('0.382', 107718.1), ('0', 107242.5),
              ('-0.27', 106906.3), ('-0.618', 106473.0)]
resistance = 108464
entry, stop, target = 107867.7, 108525.2, 106474.0
zigzag_x = [318.2, 343.1, 456.8]
zigzag_y = [107458, 107867.7, 106266]
price_tags = [(108525.2, '#F23645'), (108009.8, '#F23645'), (107867.7, '#808080'), (107574.7, '#808080'),
              (106971.3, '#089981'), (106518.8, '#F23645'), (106474.0, '#089981')]
last_price = 107325.5

TEAL = '#089981'
RED = '#F23645'
INK = '#131722'
FONT = 'Inter'
HEAD = 'Open Sans'

assert len(opens) == len(closes) == len(highs) == len(lows) == len(volumes) == 312

fig = plt.figure(figsize=(W / DPI, H / DPI), dpi=DPI, facecolor='white')
L, T, R, B = 12, 87, 3064, 1679
ax = fig.add_axes([L / W, 1 - B / H, (R - L) / W, (B - T) / H])
ax_vol = ax.twinx()
ax.set_zorder(ax_vol.get_zorder() + 1)
ax.patch.set_visible(False)
ax_vol.patch.set_facecolor('white')

ax.set_yscale('log')
ax.set_xlim(-0.41, 624)
Y0, Y1 = 106271, 109689.5
ax.set_ylim(Y0, Y1)
ax_vol.set_ylim(0, B - T)
ax_vol.yaxis.set_visible(False)

bars = np.arange(len(opens))
o, c, h, l = map(np.array, (opens, closes, highs, lows))
colors = np.where(c >= o, TEAL, RED)

# grid
time_ticks = 12 + 24 * np.arange(len(time_labels))
ax_vol.vlines(time_ticks, 0, B - T, color='#F2F3F6', lw=2, zorder=0)
for p in price_ticks:
    ax.axhline(p, color='#F2F3F6', lw=2, zorder=0)

ax_vol.bar(bars, volumes, width=0.42, color=colors, alpha=0.5, linewidth=0, zorder=2)

ax.yaxis.tick_right()
ax.set_yticks(price_ticks)
ax.set_yticklabels([f'{p:,.1f}' for p in price_ticks], fontsize=17.5, family=FONT, color=INK)
ax.yaxis.set_minor_locator(NullLocator())
ax.tick_params(axis='y', which='both', length=0, pad=14.4)
lift = ScaledTranslation(0, 3 / DPI, fig.dpi_scale_trans)
for lab in ax.get_yticklabels():
    lab.set_transform(lab.get_transform() + lift)
ax.set_xticks(time_ticks)
ax.set_xticklabels(time_labels, fontsize=18, family=FONT, color=INK)
ax.tick_params(axis='x', length=0, pad=16)
for lab in ax.get_xticklabels():
    if lab.get_text() == 'Jul':
        lab.set_fontweight('bold')
for s in list(ax.spines.values()) + list(ax_vol.spines.values()):
    s.set_visible(False)

# risk / reward boxes and demand zone
ax.add_patch(Rectangle((326.1, entry), 129.4, stop - entry, fc=RED, alpha=0.2, lw=0, zorder=1))
ax.add_patch(Rectangle((326.1, target), 129.4, entry - target, fc=TEAL, alpha=0.2, lw=0, zorder=1))
ax.add_patch(Rectangle((52, Y0), 464.4, 106361 - Y0, fc='#FFEB3B', alpha=0.2, lw=0, zorder=5))
ax.plot([52, 52, 516.4, 516.4], [Y0, 106361, 106361, Y0], color='#FFEB3B', lw=1.5, zorder=5)

# candles
ax.vlines(bars, l, h, colors=colors, lw=1.2, zorder=3)
ax.bar(bars, np.abs(c - o), bottom=np.minimum(o, c), width=0.68, color=colors, edgecolor=colors, linewidth=0.4, zorder=3)

# cloud
xs = np.arange(0, 336.5, 0.2)
ya = np.interp(xs, *zip(*lead_a))
yb = np.interp(xs, *zip(*lead_b))
ax.fill_between(xs, ya, yb, where=ya >= yb, interpolate=True, color='#43A047', alpha=0.11, lw=0, zorder=2)
ax.fill_between(xs, ya, yb, where=ya < yb, interpolate=True, color='#F44336', alpha=0.10, lw=0, zorder=2)
ax.plot(*zip(*lead_a), color='#A5D6A7', lw=1.3, zorder=4)
ax.plot(*zip(*lead_b), color='#EF9A9A', lw=1.3, zorder=4)
ax.plot(*zip(*lagging), color='#43A047', lw=1.2, zorder=4)
ax.plot(*zip(*base_line), color='#B71C1C', lw=1.2, zorder=4)
ax.plot(*zip(*conversion), color='#2962FF', lw=1.2, zorder=4)

# drawings
ax.axhline(resistance, color=INK, lw=1.4, zorder=6)
ax.axhline(last_price, color=RED, lw=1.4, ls=(0, (1.2, 3)), zorder=6)
for name, price in fib_levels:
    col = '#FF9800' if name == '0.5' else INK
    ax.hlines(price, 270.9 if name != '0.5' else 272, 417.5, color=col, lw=1.4, zorder=6)
    ax.annotate(f'{name} ({price:,.1f})', xy=(267.6, price), xytext=(0, 15.5), textcoords='offset points',
                ha='right', va='center', fontsize=18.6, family=FONT, color=col, zorder=7)
ax.plot(zigzag_x, zigzag_y, color='black', lw=3.2, solid_joinstyle='miter', zorder=7)


# everything below is placed in pixels
def px(x, y):
    return x / W, 1 - y / H


def put(x, y, s, **kw):
    kw.setdefault('family', HEAD)
    kw.setdefault('fontsize', 17.1 if kw.get('fontweight') == 'bold' else 17.8)
    kw.setdefault('color', INK)
    return fig.text(*px(x, y), s, va='center', **kw)


def box(x0, y0, x1, y1, col):
    fig.add_artist(FancyBboxPatch((x0 + 3, H - y1 + 3), x1 - x0 - 6, y1 - y0 - 6, boxstyle='round,pad=3,rounding_size=3',
                                  fc=col, ec='none', transform=IdentityTransform(), zorder=10))


def to_y(price):
    return H - ax.transData.transform((0, price))[1]


fig.add_artist(Rectangle((L, H - 1736), 3225 - L, 1736 - T, fc='none', ec='#2A2E39', lw=2, transform=IdentityTransform(), zorder=12))

# the two lowest tags are pushed down and stacked so they do not collide
tag_y = {106518.8: to_y(106474.0) - 21, 106474.0: to_y(106474.0) + 13}
for price, col in price_tags:
    y = tag_y.get(price, to_y(price) + 1)
    box(3066, y - 17, 3213, y + 17, col)
    fig.text(*px(3084, y - 1), f'{price:,.1f}', family=FONT, fontsize=18, color='white', va='center', zorder=11)

y = to_y(last_price)
box(3066, y - 17, 3213, y + 45, RED)
fig.text(*px(3084, y - 1), f'{last_price:,.1f}', family=FONT, fontsize=18, color='white', va='center', zorder=11)
fig.text(*px(3084, y + 26), '00:19', family=FONT, fontsize=18, color='#FBC8CC', va='center', zorder=11)
box(2914, y - 17, 3064, y + 17, RED)
fig.text(*px(2924, y), 'BTCUSDT.P', family=FONT, fontsize=17.5, color='white', va='center', zorder=11)
put(3090, 122, 'USDT', family=FONT, fontsize=17.5)

put(13, 25, 'Riscora', fontweight='bold')
put(102, 25, 'published on TradingView.com, June 29, 2025 15:59:47 EST')
header_x = [13, 304, 423, 450, 630, 659, 779, 807, 929, 951, 1072, 1096]
header_s = ['BINANCE:BTCUSDT.P, 15', '107,325.3', '▲', '+84.3 (+0.08%)', 'O:', '107,379.3', 'H:', '107,420.0', 'L:', '107,325.5', 'C:', '107,325.5']
for i, (x, s) in enumerate(zip(header_x, header_s)):
    kw = {}
    if s in ('BINANCE:BTCUSDT.P, 15', 'O:', 'H:', 'L:', 'C:'):
        kw['fontweight'] = 'bold'
    if s == '▲':
        kw.update(family='DejaVu Sans', fontsize=15, color='#22AB94')
    elif i >= 5 and i % 2 == 1:
        kw['color'] = '#22AB94'
    put(x, 59, s, **kw)
put(31, 122, 'Bitcoin / TetherUS PERPETUAL CONTRACT · 15 · BINANCE', fontweight='bold')
put(31, 155, 'Vol · BTC')
put(31, 191, 'Ichimoku (4, 16, 48, 26)')

# lightning badge
cx, cy = 1535, 1654
fig.add_artist(Circle((cx, H - cy), 19, fc='white', ec='#9C27B0', lw=2.5, transform=IdentityTransform(), zorder=9))
bolt = [(6, 13), (-8, -2), (-1, -2), (-6, -13), (8, 2), (1, 2)]
fig.add_artist(Polygon([(cx + a, H - cy + b) for a, b in bolt], closed=True, fc='#9C27B0', ec='none', transform=IdentityTransform(), zorder=10))
fig.add_artist(Circle((cx + 14, H - cy + 14), 7.5, fc=RED, ec='white', lw=1.5, transform=IdentityTransform(), zorder=10))

# logo
put(68, 1772, 'TradingView', family='Inter', fontweight='bold', fontsize=21)
logo_t = [(12, 1761), (37, 1761), (37, 1784), (21, 1784), (21, 1770), (12, 1770)]
logo_s = [(47, 1761), (57, 1761), (49, 1784), (37, 1784)]
for shape in (logo_t, logo_s):
    fig.add_artist(Polygon([(a, H - b) for a, b in shape], closed=True, fc=INK, ec='none', transform=IdentityTransform()))
fig.add_artist(Circle((41, H - 1766), 5, fc=INK, ec='none', transform=IdentityTransform()))

fig.savefig('out.png', dpi=DPI)
